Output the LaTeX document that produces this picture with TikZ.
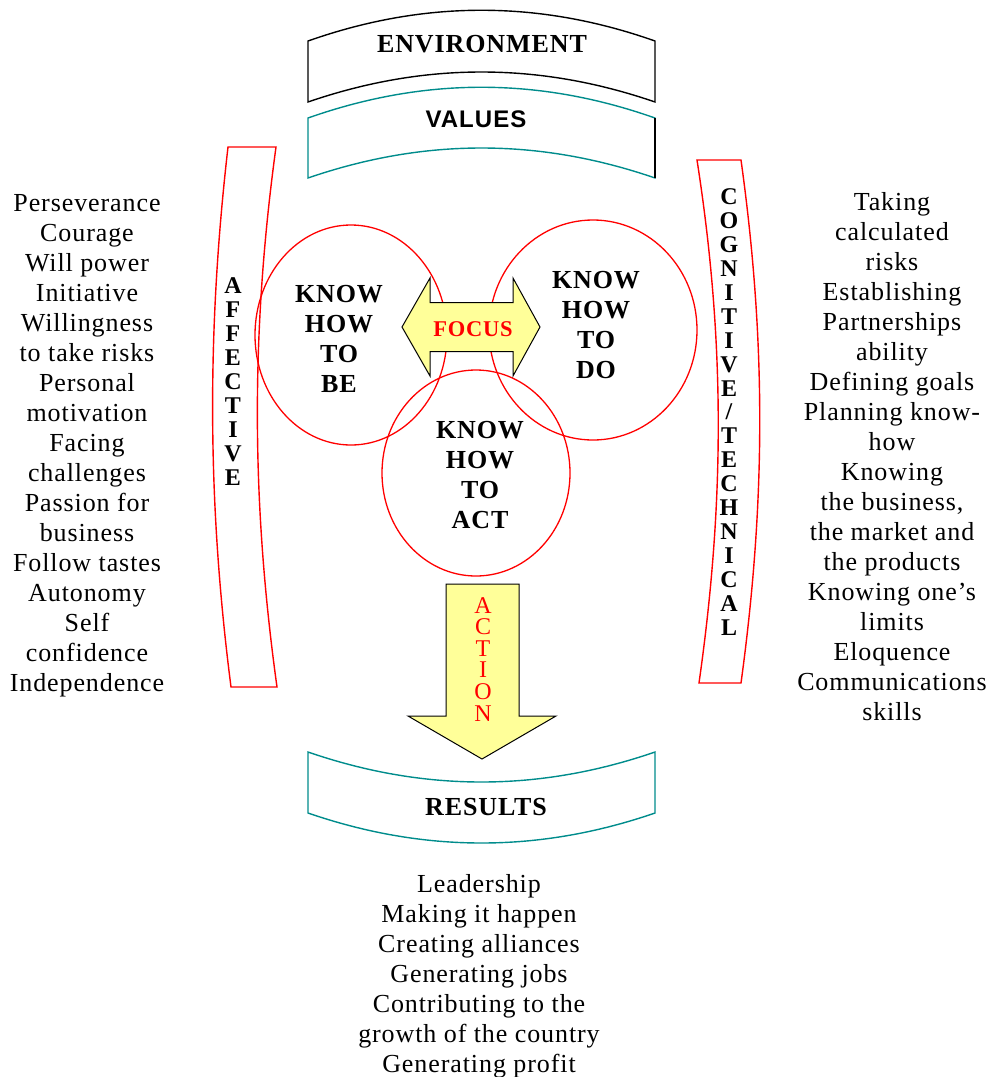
\documentclass[tikz,border=0pt]{standalone}
\usepackage{fontspec}
\setmainfont{Liberation Serif}[LetterSpace=3.5]
\newfontfamily\valuesfont{Liberation Sans}[LetterSpace=4.5]
\usepackage{tikz}
\definecolor{bandteal}{RGB}{0,140,140}
\definecolor{arrowyellow}{RGB}{255,255,153}
\tikzstyle{blackband} = [line width=1.4pt, draw=black]
\tikzstyle{tealband} = [line width=1.4pt, draw=bandteal]
\tikzstyle{redband} = [line width=1.4pt, draw=red]
\tikzstyle{ring} = [line width=1.3pt, draw=red]
\tikzstyle{bigarrow} = [line width=1pt, draw=black, fill=arrowyellow, line join=miter]
\tikzstyle{listtext} = [anchor=base, align=center, inner sep=0pt, font=\fontsize{26}{30}\selectfont]
\tikzstyle{bandlabel} = [anchor=base, inner sep=0pt, font=\bfseries\fontsize{26}{30}\selectfont]
\tikzstyle{knowtext} = [anchor=base, align=center, inner sep=0pt, font=\bfseries\fontsize{26}{30}\selectfont]
\tikzstyle{letterstack} = [anchor=base, align=center, inner sep=0pt, font=\bfseries\fontsize{24}{24}\selectfont]

\begin{document}
\begin{tikzpicture}[x=1pt, y=-1pt]
	\useasboundingbox (0,0) rectangle (988,1077);
	\draw[blackband] (308,41) .. controls (424,0) and (539,0) .. (655,41) -- (655,102) .. controls (539,62) and (424,62) .. (308,102) -- cycle;
	\node[bandlabel] (environment) at (482,52) {ENVIRONMENT};
	\draw[tealband] (308,118) .. controls (424,77) and (539,77) .. (655,118) -- (655,178) .. controls (539,138) and (424,138) .. (308,178) -- cycle;
	\draw[line width=1.4pt] (655,118) -- (655,178);
	\node[anchor=base, inner sep=0pt, font=\valuesfont\bfseries\fontsize{24}{28}\selectfont] (values) at (476,127) {VALUES};
	\draw[redband] (228,147) -- (276,147) .. controls (251,330) and (251,500) .. (277,687) -- (231,687) .. controls (207,500) and (207,330) .. cycle;
	\node[letterstack] (affective) at (233,485) {A\\F\\F\\E\\C\\T\\I\\V\\E};
	\draw[redband] (697,160) -- (741,160) .. controls (766,340) and (766,500) .. (741,683) -- (699,683) .. controls (725,500) and (725,340) .. cycle;
	\node[letterstack, font=\bfseries\fontsize{24}{23.9}\selectfont] (cognitive) at (729,635) {C\\O\\G\\N\\I\\T\\I\\V\\E\\/\\T\\E\\C\\H\\N\\I\\C\\A\\L};
	\draw[ring] (351,335) ellipse [x radius=96pt, y radius=110pt];
	\draw[ring] (593,330) ellipse [x radius=104pt, y radius=110pt];
	\draw[ring] (476,473) ellipse [x radius=94pt, y radius=103pt];
	\draw[bigarrow] (402,327) -- (430,278) -- (430,302.5) -- (513,302.5) -- (513,278) -- (540,327) -- (513,376) -- (513,351.5) -- (430,351.5) -- (430,376) -- cycle;
	\node[anchor=base, inner sep=0pt, text=red, font=\bfseries\fontsize{22.5}{26}\selectfont] (focus) at (473,336) {FOCUS};
	\node[knowtext] (knowbe) at (339,392) {KNOW\\HOW\\TO\\BE};
	\node[knowtext] (knowdo) at (596,378) {KNOW\\HOW\\TO\\DO};
	\node[knowtext] (knowact) at (480,528) {KNOW\\HOW\\TO\\ACT};
	\draw[bigarrow] (446,584) -- (519,584) -- (519,716) -- (556,716) -- (482,759) -- (408,716) -- (446,716) -- cycle;
	\node[anchor=base, align=center, inner sep=0pt, text=red, font=\fontsize{24}{21.6}\selectfont] (action) at (483,721) {A\\C\\T\\I\\O\\N};
	\draw[tealband] (308,752) .. controls (424,792) and (539,792) .. (655,752) -- (655,813) .. controls (539,853) and (424,853) .. (308,813) -- cycle;
	\node[bandlabel] (results) at (486,815) {RESULTS};
	\node[listtext] (affectlist) at (87,691) {Perseverance\\Courage\\Will power\\Initiative\\Willingness\\to take risks\\Personal\\motivation\\Facing\\challenges\\Passion for\\business\\Follow tastes\\Autonomy\\Self\\confidence\\Independence};
	\node[listtext] (cognitlist) at (892,720) {Taking\\calculated\\risks\\Establishing\\Partnerships\\ability\\Defining goals\\Planning know-\\how\\Knowing\\the business,\\the market and\\the products\\Knowing one’s\\limits\\Eloquence\\Communications\\skills};
	\node[listtext] (resultlist) at (479,1072) {Leadership\\Making it happen\\Creating alliances\\Generating jobs\\Contributing to the\\growth of the country\\Generating profit};
\end{tikzpicture}
\end{document}
